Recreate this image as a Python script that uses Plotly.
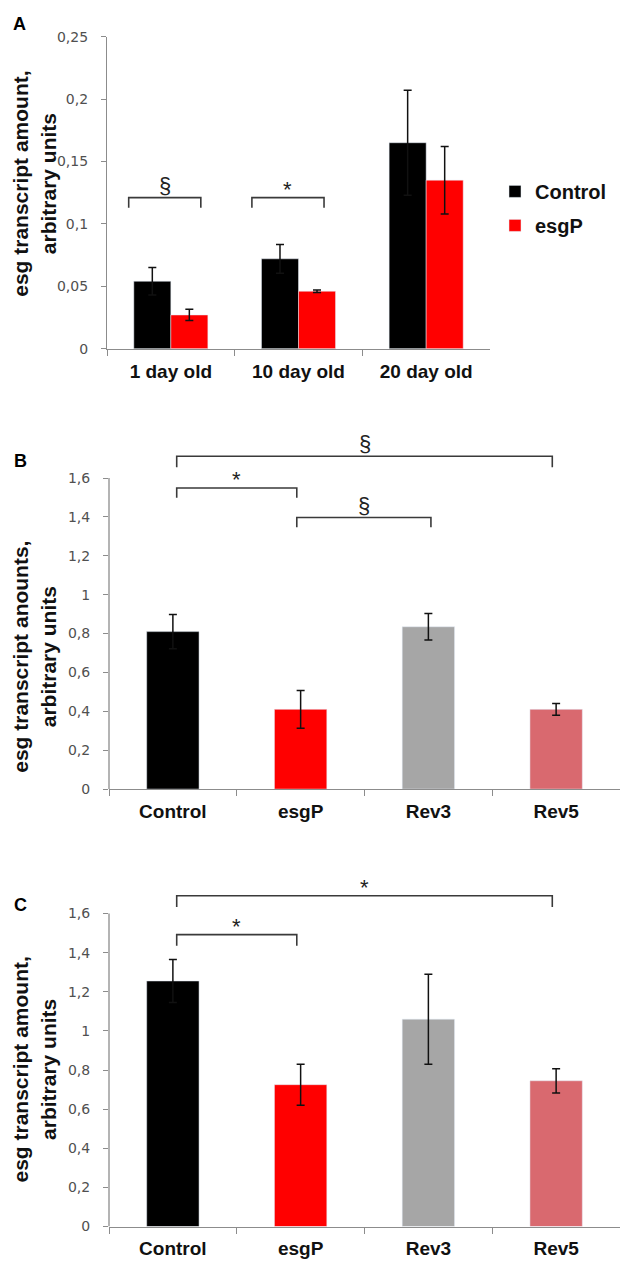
import plotly.graph_objects as go

# ---------------- data ----------------
A_categories = ["1 day old", "10 day old", "20 day old"]
A_control = [0.054, 0.072, 0.165]
A_control_err = [0.011, 0.0115, 0.042]
A_esgP = [0.027, 0.046, 0.135]
A_esgP_err = [0.0045, 0.001, 0.027]
A_tickvals = [0, 0.05, 0.1, 0.15, 0.2, 0.25]
A_ticktext = ["0", "0,05", "0,1", "0,15", "0,2", "0,25"]

BC_categories = ["Control", "esgP", "Rev3", "Rev5"]
B_values = [0.81, 0.41, 0.835, 0.41]
B_err = [0.088, 0.097, 0.068, 0.03]
C_values = [1.255, 0.725, 1.06, 0.745]
C_err = [0.11, 0.105, 0.23, 0.062]
BC_tickvals = [0, 0.2, 0.4, 0.6, 0.8, 1.0, 1.2, 1.4, 1.6]
BC_ticktext = ["0", "0,2", "0,4", "0,6", "0,8", "1", "1,2", "1,4", "1,6"]

# significance brackets: (x start, x end, leg bottom, top, symbol) in category units
A_brackets = [(-0.33, 0.235, 0.113, 0.121, "§"), (0.635, 1.2, 0.113, 0.121, "*")]
B_brackets = [(0.03, 2.97, 1.656, 1.712, "§"), (0.03, 0.97, 1.498, 1.549, "*"),
              (0.97, 2.02, 1.347, 1.397, "§")]
C_brackets = [(0.03, 2.97, 1.633, 1.691, "*"), (0.03, 0.97, 1.435, 1.492, "*")]

# ---------------- styles ----------------
W, H = 620, 1276
BLACK, RED, GRAY, ROSE = "#000000", "#ff0000", "#a6a6a6", "#d9696f"
BC_colors = [BLACK, RED, GRAY, ROSE]
AXIS_COL = "#8c8c8c"
TICK_FONT = dict(family="DejaVu Sans", size=14, color="#505050")
CAT_FONT = dict(family="Liberation Sans, Arial", size=19, color="#111111", weight="bold")
TITLE_FONT = dict(family="Liberation Sans, Arial", size=21, color="#111111")
SYM_FONT = dict(family="Liberation Sans, Arial", size=22, color="#222222")


def px_x(p):
    return p / W


def px_y(p):
    return 1 - p / H


fig = go.Figure()

err_style = dict(type="data", visible=True, color="#111111", thickness=1.5, width=4)

fig.add_trace(go.Bar(x=A_categories, y=A_control, name="Control", marker_color=BLACK,
                     error_y=dict(array=A_control_err, symmetric=True, **err_style),
                     xaxis="x", yaxis="y", legendgroup="c"))
fig.add_trace(go.Bar(x=A_categories, y=A_esgP, name="esgP", marker_color=RED,
                     error_y=dict(array=A_esgP_err, symmetric=True, **err_style),
                     xaxis="x", yaxis="y", legendgroup="e"))
fig.add_trace(go.Bar(x=BC_categories, y=B_values, marker_color=BC_colors, width=0.41,
                     error_y=dict(array=B_err, symmetric=True, **err_style),
                     xaxis="x2", yaxis="y2", showlegend=False))
fig.add_trace(go.Bar(x=BC_categories, y=C_values, marker_color=BC_colors, width=0.41,
                     error_y=dict(array=C_err, symmetric=True, **err_style),
                     xaxis="x3", yaxis="y3", showlegend=False))

xcommon = dict(type="category", showline=True, linecolor=AXIS_COL, linewidth=1.3,
               ticks="outside", tickson="boundaries", ticklen=6, tickcolor=AXIS_COL,
               tickfont=CAT_FONT, showgrid=False, zeroline=False, ticklabelstandoff=5)
ycommon = dict(ticks="outside", ticklen=5, tickcolor=AXIS_COL, tickfont=TICK_FONT,
               showgrid=False, zeroline=False, ticklabelstandoff=10)

# B and C axes extend above 1,6 so brackets are not clipped; the visible axis line stops at 1,6
YMAX_BC = 1.8
B_top_px = 791 - YMAX_BC / 1.6 * 315
C_top_px = 1234 - YMAX_BC / 1.6 * 317

fig.update_layout(
    width=W, height=H, margin=dict(l=0, r=0, t=0, b=0),
    paper_bgcolor="white", plot_bgcolor="white",
    barmode="group", bargap=0.42, bargroupgap=0,
    showlegend=True,
    legend=dict(x=px_x(495), y=px_y(166), xanchor="left", yanchor="top",
                font=dict(family="Liberation Sans, Arial", size=20, color="#111111", weight="bold"),
                traceorder="grouped", tracegroupgap=5, bgcolor="rgba(0,0,0,0)"),
    xaxis=dict(domain=[px_x(107), px_x(490)], anchor="y", range=[-0.5, 2.5], **xcommon),
    yaxis=dict(domain=[px_y(345), px_y(29)], anchor="x", range=[0, 0.25],
               showline=True, linecolor=AXIS_COL, linewidth=1.3,
               tickvals=A_tickvals, ticktext=A_ticktext, **ycommon),
    xaxis2=dict(domain=[px_x(109), 1.0], anchor="y2", range=[-0.5, 3.5], **xcommon),
    yaxis2=dict(domain=[px_y(791), px_y(B_top_px)], anchor="x2", range=[0, YMAX_BC],
                showline=False, tickvals=BC_tickvals, ticktext=BC_ticktext, **ycommon),
    xaxis3=dict(domain=[px_x(109), 1.0], anchor="y3", range=[-0.5, 3.5], **xcommon),
    yaxis3=dict(domain=[px_y(1234), px_y(C_top_px)], anchor="x3", range=[0, YMAX_BC],
                showline=False, tickvals=BC_tickvals, ticktext=BC_ticktext, **ycommon),
)

shapes = []
annotations = []
# visible y axis lines for B and C, ending at the last tick
for xr, yr, ticks in [("x2", "y2", BC_tickvals), ("x3", "y3", BC_tickvals)]:
    shapes.append(dict(type="line", xref=f"{xr} domain", yref=yr, x0=0, x1=0,
                       y0=ticks[0], y1=ticks[-1], line=dict(color=AXIS_COL, width=1.3)))

for brackets, xr, yr in [(A_brackets, "x", "y"), (B_brackets, "x2", "y2"), (C_brackets, "x3", "y3")]:
    for x0, x1, yb, yt, sym in brackets:
        shapes.append(dict(type="path", xref=xr, yref=yr,
                           path=f"M {x0},{yb} L {x0},{yt} L {x1},{yt} L {x1},{yb}",
                           line=dict(color="#3a3a3a", width=1.6)))
        annotations.append(dict(xref=xr, yref=yr, x=(x0 + x1) / 2, y=yt, text=sym,
                                showarrow=False, yanchor="bottom",
                                yshift=-2 if sym == "§" else -6, font=SYM_FONT))

# panel letters
for letter, (lx, ly) in zip(["A", "B", "C"], [(19, 16), (20, 459), (20, 908)]):
    annotations.append(dict(xref="paper", yref="paper", x=px_x(lx), y=px_y(ly), text=f"<b>{letter}</b>",
                            showarrow=False, xanchor="center", yanchor="middle",
                            font=dict(family="Liberation Sans, Arial", size=18, color="#000000")))

# y axis titles
ytitles = [("esg transcript amount,<br>arbitrary units", 178),
           ("esg transcript anounts,<br>arbitrary units", 657),
           ("esg transcript amount,<br>arbitrary units", 1075)]
for txt, cy in ytitles:
    annotations.append(dict(xref="paper", yref="paper", x=px_x(34), y=px_y(cy), text=f"<b>{txt}</b>",
                            showarrow=False, textangle=-90, xanchor="center", yanchor="middle",
                            font=TITLE_FONT))

fig.update_layout(shapes=shapes, annotations=annotations)
# remove the default page margin so the figure sits at the window's top-left corner
fig.write_html("out.html", config={"displayModeBar": False},
               post_script="document.body.style.margin='0';")
